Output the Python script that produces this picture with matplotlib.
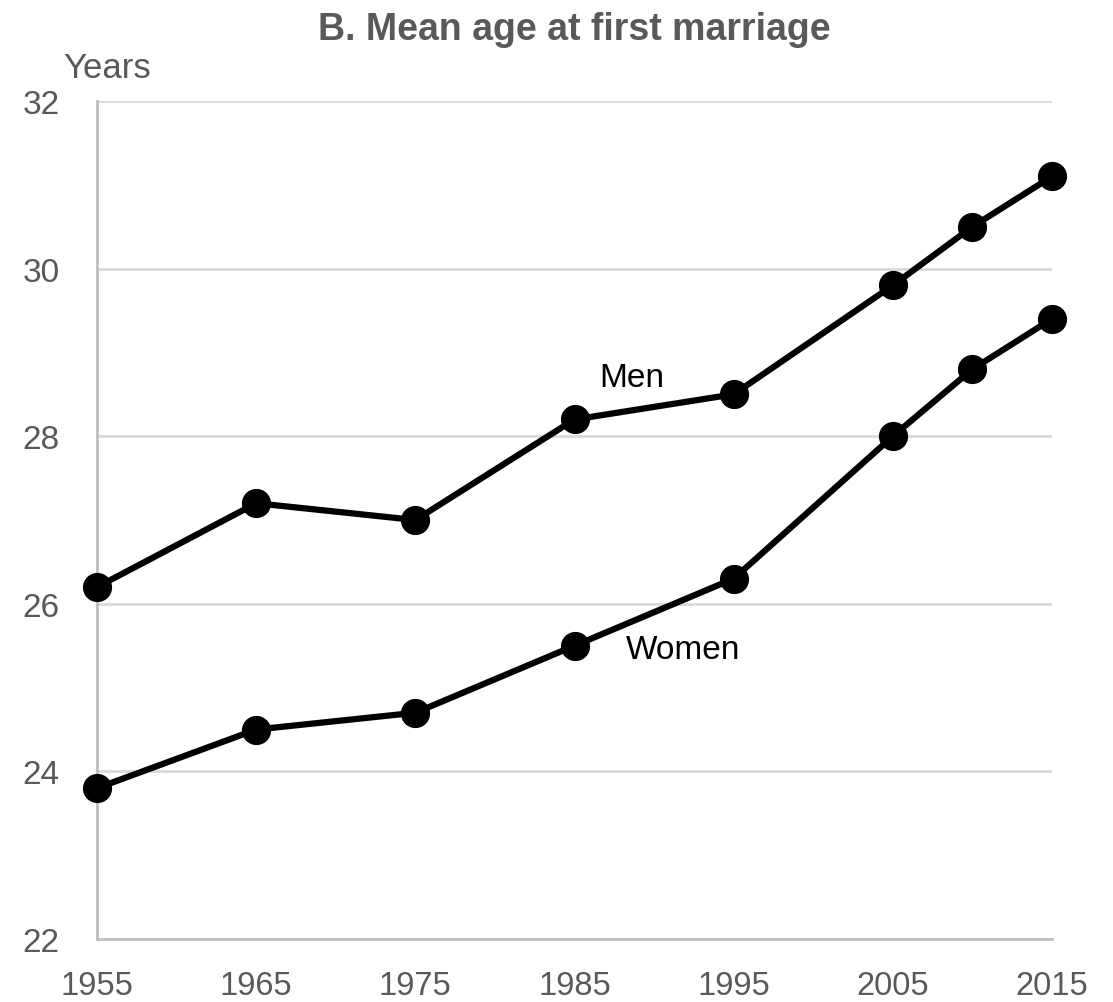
import matplotlib.pyplot as plt

years = [1955, 1965, 1975, 1985, 1995, 2005, 2010, 2015]
men = [26.2, 27.2, 27.0, 28.2, 28.5, 29.8, 30.5, 31.1]
women = [23.8, 24.5, 24.7, 25.5, 26.3, 28.0, 28.8, 29.4]
xticks = [1955, 1965, 1975, 1985, 1995, 2005, 2015]
yticks = [22, 24, 26, 28, 30, 32]

plt.rcParams['font.family'] = ['Liberation Sans', 'DejaVu Sans']
txt = '#595959'

fig = plt.figure(figsize=(11.13, 10.03), dpi=100)
ax = fig.add_axes([0.0872, 0.0628, 0.858, 0.8355])

# Lineas con puntos
for vals in (men, women):
    ax.plot(years, vals, '-o', color='black', lw=4.5, ms=20, clip_on=False, zorder=3)

ax.set_xlim(1955, 2015)
ax.set_ylim(22, 32)
ax.set_xticks(xticks)
ax.set_yticks(yticks)
ax.tick_params(length=0, colors=txt)
ax.tick_params(axis='x', labelsize=23.5, pad=22)
ax.tick_params(axis='y', labelsize=24, pad=27)

for y in yticks[1:]:
    ax.axhline(y, color='#d9d9d9', lw=2, zorder=1)

for s in ('top', 'right'):
    ax.spines[s].set_visible(False)
for s in ('left', 'bottom'):
    ax.spines[s].set_color('#bfbfbf')
    ax.spines[s].set_linewidth(2)

ax.text(1988.6, 28.7, 'Men', fontsize=24, ha='center', va='center')
ax.text(1991.8, 25.45, 'Women', fontsize=24, ha='center', va='center')

fig.text(0.096, 0.932, 'Years', fontsize=25, color=txt, ha='center', va='center')
fig.text(0.516, 0.97, 'B. Mean age at first marriage', fontsize=27, fontweight='bold',
         color=txt, ha='center', va='center')

plt.savefig('out.png')
